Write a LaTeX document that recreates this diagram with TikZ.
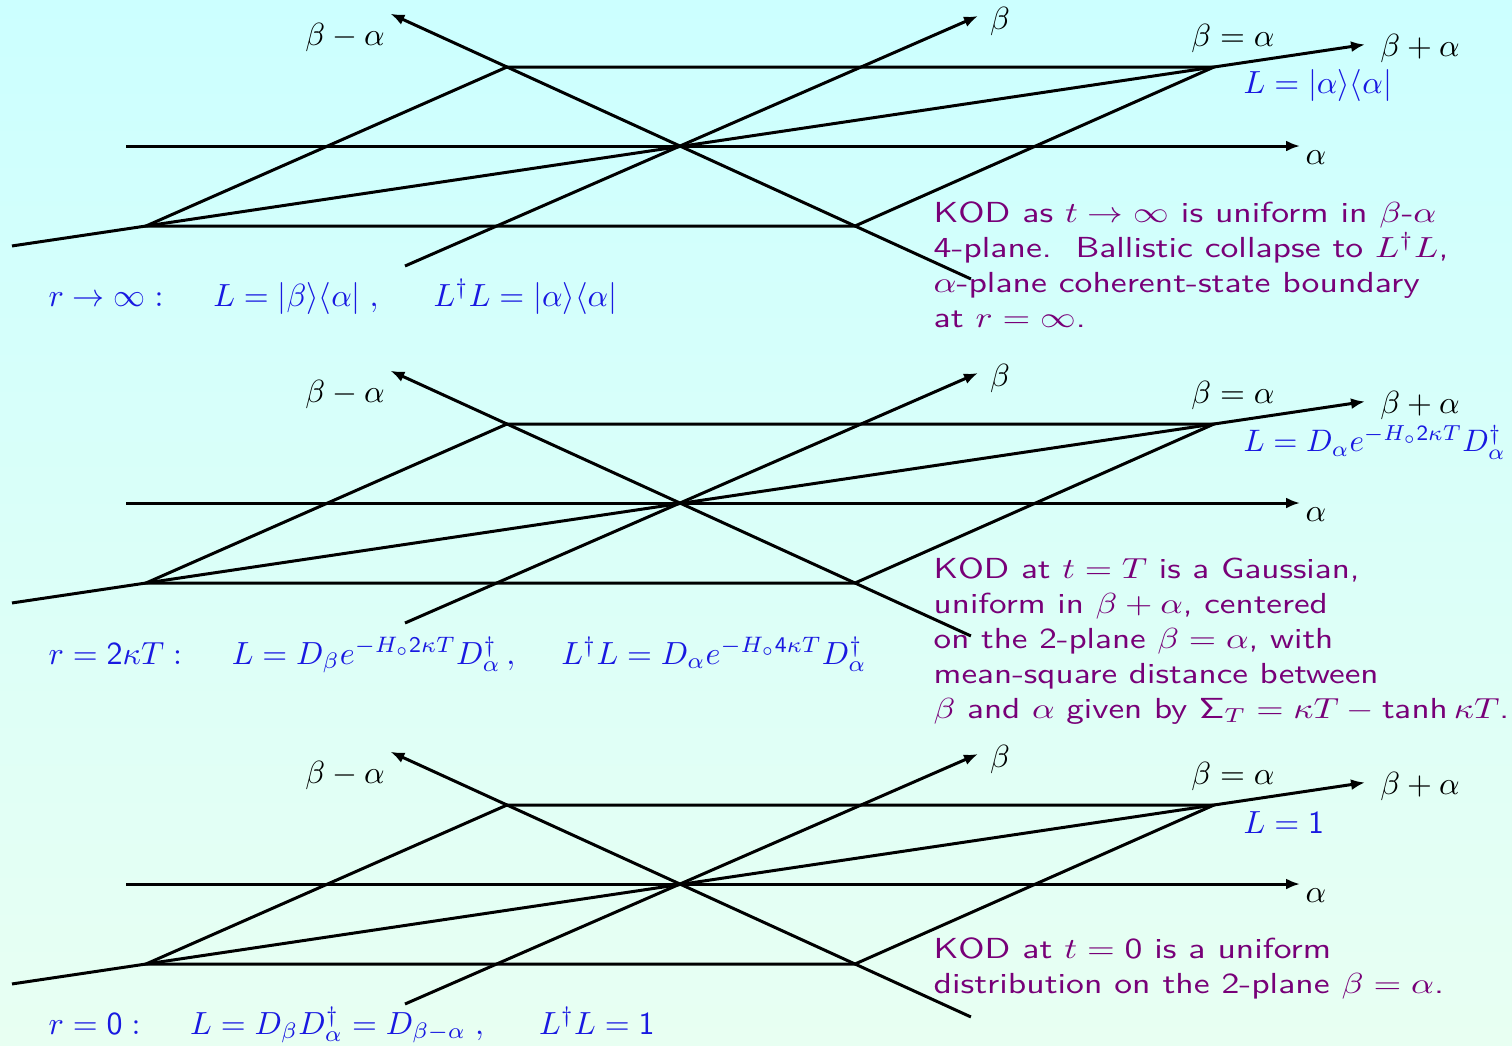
\documentclass[tikz,border=0pt]{standalone}
\usetikzlibrary{arrows.meta,calc}
\definecolor{bgtop}{RGB}{204,255,255}
\definecolor{bgbot}{RGB}{232,255,242}
\definecolor{kblue}{RGB}{25,25,225}
\definecolor{kpurple}{RGB}{120,0,120}
\begin{document}
\begin{tikzpicture}[x=1pt,y=-1pt,
  ln/.style={line width=3pt},
  ax/.style={ln,-{Latex[length=14pt,width=11pt]}},
  lab/.style={font=\fontsize{10}{12}\selectfont,inner sep=0pt,scale=3.2},
  blu/.style={lab,text=kblue},
  purp/.style={font=\fontsize{10}{12.07}\sffamily\selectfont,text=kpurple,align=left,inner sep=0pt,anchor=north west,scale=2.9,xscale=1.23}]
\shade[top color=bgtop,bottom color=bgbot] (0,0) rectangle (1512,1045);
\useasboundingbox (0,0) rectangle (1512,1045);
\foreach \dy/\s in {0/a,357/b,738/c}{
\begin{scope}[yshift=-\dy pt]
  \coordinate (O\s) at (680,146);
  \coordinate (A\s) at (507,67);
  \coordinate (B\s) at (1214,67);
  \coordinate (C\s) at (855,226);
  \coordinate (D\s) at (146,226);
  \coordinate (as\s) at (126,146);
  \coordinate (ae\s) at (1300,146);
  \coordinate (ms\s) at ($(A\s)!1.333!(C\s)$);
  \coordinate (me\s) at ($(C\s)!1.335!(A\s)$);
  \coordinate (bs\s) at (405,266);
  \coordinate (be\s) at (978,16);
  \coordinate (ps\s) at ($(B\s)!1.1255!(D\s)$);
  \coordinate (pe\s) at ($(D\s)!1.1414!(B\s)$);
  \draw[ln,line join=miter] (D\s) -- (A\s) -- (B\s) -- (C\s) -- cycle;
  \draw[ax] (as\s) -- (ae\s);
  \draw[ax] (ms\s) -- (me\s);
  \draw[ax] (bs\s) -- (be\s);
  \draw[ax] (ps\s) -- (pe\s);
  \node[lab] (lm\s) at (345,37) {$\beta-\alpha$};
  \node[lab] (lb\s) at (1000,21) {$\beta$};
  \node[lab] (le\s) at (1233,38) {$\beta=\alpha$};
  \node[lab] (lp\s) at (1420,48) {$\beta+\alpha$};
  \node[lab] (la\s) at (1316,158) {$\alpha$};
\end{scope}
}
% panel 1
\node[blu,anchor=west] (La) at (1243,85) {$L=|\alpha\rangle\langle\alpha|$};
\node[blu,anchor=west] (ra) at (48,297) {$r\to\infty:\quad\; L=|\beta\rangle\langle\alpha|\;,\quad\;\; L^\dagger L=|\alpha\rangle\langle\alpha|$};
\node[purp] (ta) at (933,201) {KOD as $t\to\infty$ is uniform in $\beta$-$\alpha$\\
4-plane.\ \ Ballistic collapse to $L^\dagger L$,\\
$\alpha$-plane coherent-state boundary\\
at $r=\infty$.};
% panel 2
\node[blu,anchor=west,scale=0.97] (Lb) at (1243,442) {$L=D_\alpha e^{-H_\circ \mathsf{2}\kappa T}D_\alpha^\dagger$};
\node[blu,anchor=west] (rb) at (48,655) {$r=\mathsf{2}\kappa T:\quad\; L=D_\beta e^{-H_\circ\mathsf{2}\kappa T}D_\alpha^\dagger\,,\quad\; L^\dagger L=D_\alpha e^{-H_\circ\mathsf{4}\kappa T}D_\alpha^\dagger$};
\node[purp,xscale=0.985] (tb) at (933,557) {KOD at $t=T$ is a Gaussian,\\
uniform in $\beta+\alpha$, centered\\
on the 2-plane $\beta=\alpha$, with\\
mean-square distance between\\
$\beta$ and $\alpha$ given by $\mathsf{\Sigma}_T=\kappa T-\mathsf{tanh}\,\kappa T$.};
% panel 3
\node[blu,anchor=west] (Lc) at (1243,823) {$L=\mathsf{1}$};
\node[blu,anchor=west] (rc) at (48,1025) {$r=\mathsf{0}:\quad\; L=D_\beta D_\alpha^\dagger=D_{\beta-\alpha}\;,\quad\;\; L^\dagger L=\mathsf{1}$};
\node[purp] (tc) at (933,937) {KOD at $t=\mathsf{0}$ is a uniform\\
distribution on the 2-plane $\beta=\alpha$.};
\end{tikzpicture}
\end{document}
